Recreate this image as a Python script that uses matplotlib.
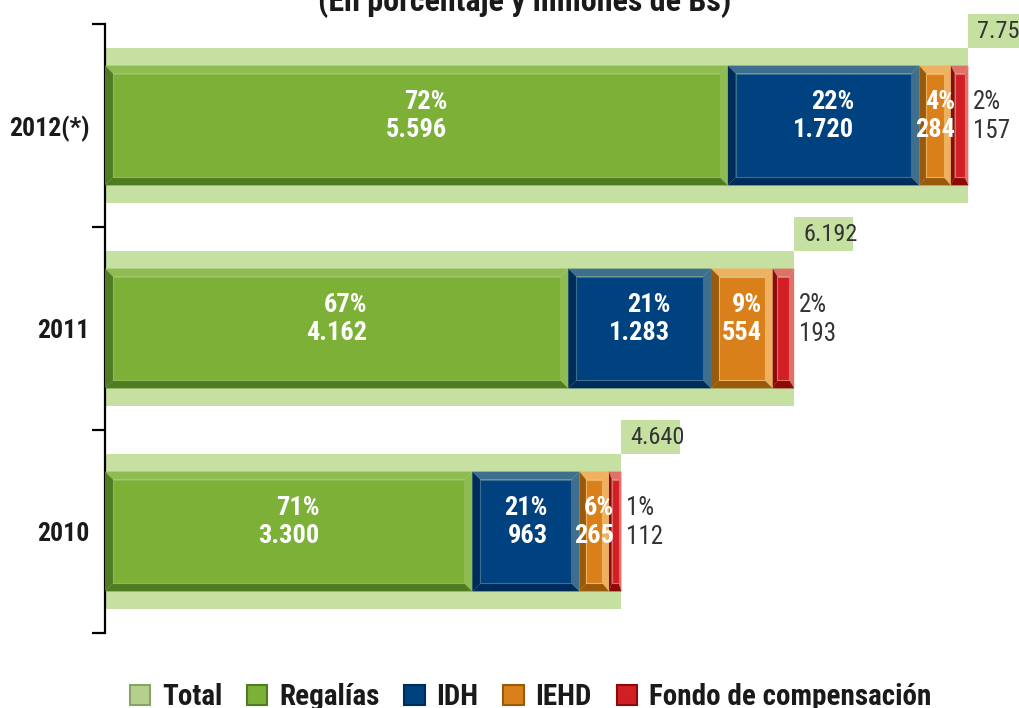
import os
import numpy as np
import matplotlib
matplotlib.use('Agg')
import matplotlib.pyplot as plt
import matplotlib.font_manager as fm
from matplotlib.patches import Polygon, Rectangle, Patch

# datos (millones de Bs y porcentaje)
years = ['2012(*)', '2011', '2010']
total = [7757, 6192, 4640]
regalias = [5596, 4162, 3300]
idh = [1720, 1283, 963]
iehd = [284, 554, 265]
fondo = [157, 193, 112]
regalias_pct = [72, 67, 71]
idh_pct = [22, 21, 21]
iehd_pct = [4, 9, 6]
fondo_pct = [2, 2, 1]


# buscar una fuente estrecha (condensed / narrow) instalada
def is_bold(f):
    w = f.weight
    if isinstance(w, str):
        return w.lower() in ('bold', 'semibold', 'demibold', 'heavy', 'black', 'extra bold', 'ultrabold')
    return w >= 600


def find_narrow(bold):
    prefs = ['liberation sans narrow', 'liberationsansnarrow', 'roboto condensed', 'robotocondensed',
             'noto sans', 'notosans', 'open sans', 'opensans', 'dejavu sans', 'dejavusans']
    best = None
    for f in fm.fontManager.ttflist:
        base = os.path.basename(f.fname).lower()
        name = f.name.lower() + ' ' + base
        narrow = 'narrow' in name or 'condensed' in name or str(f.stretch) in ('condensed', 'semi-condensed')
        if not narrow or 'extra' in base or 'semi' in base or 'italic' in base or 'oblique' in base:
            continue
        if f.style != 'normal' or is_bold(f) != bold:
            continue
        if not bold and str(f.weight).lower() not in ('400', 'normal', 'regular', 'book', 'medium', '500'):
            continue
        rank = next((i for i, p in enumerate(prefs) if p in name), len(prefs))
        if best is None or rank < best[0]:
            best = (rank, f.fname)
    return best[1] if best else None


reg_file = find_narrow(False)
bold_file = find_narrow(True)


def fp(size, bold=False):
    path = bold_file if bold else reg_file
    if path:
        return fm.FontProperties(fname=path, size=size)
    return fm.FontProperties(family='DejaVu Sans', weight='bold' if bold else 'normal', size=size * 0.8)


# name, values, pct, base, light, dark
series = [
    ('Regalías', regalias, regalias_pct, '#7cb037', '#8ebc52', '#4f7b22'),
    ('IDH', idh, idh_pct, '#00427f', '#3f6f8f', '#002c5c'),
    ('IEHD', iehd, iehd_pct, '#d9801a', '#efb060', '#9a5a0c'),
    ('Fondo de compensación', fondo, fondo_pct, '#d21f26', '#e0706a', '#8c0a0a'),
]
total_color = '#c5e0a0'


def fmt(v):
    return f'{v:,}'.replace(',', '.')


fig = plt.figure(figsize=(10.2, 7.08), dpi=100)
ax = fig.add_axes([105 / 1020, 1 - 633 / 708, 1 - 105 / 1020, (633 - 24) / 708])
xmax = 8221
ax.set_xlim(0, xmax)
ax.set_ylim(2.5, -0.5)

px_x = xmax / (1020 - 105)      # data units per pixel (x)
px_y = 3.0 / (633 - 24)         # data units per pixel (y)

pos = np.arange(len(years))
h_total = 0.76
h_seg = 0.59


def bevel(x0, w, yc, h, base, light, dark):
    dx = min(8 * px_x, w * 0.22)
    dy = 8 * px_y
    x1 = x0 + w
    top = yc - h / 2
    bot = yc + h / 2
    sides = [
        ([(x0, top), (x1, top), (x1 - dx, top + dy), (x0 + dx, top + dy)], light),
        ([(x1, top), (x1, bot), (x1 - dx, bot - dy), (x1 - dx, top + dy)], light),
        ([(x0, bot), (x1, bot), (x1 - dx, bot - dy), (x0 + dx, bot - dy)], dark),
        ([(x0, top), (x0 + dx, top + dy), (x0 + dx, bot - dy), (x0, bot)], dark),
    ]
    for pts, c in sides:
        ax.add_patch(Polygon(pts, closed=True, facecolor=c, edgecolor='none', zorder=3))
    ax.add_patch(Rectangle((x0 + dx, top + dy), w - 2 * dx, h - 2 * dy,
                           facecolor=base, edgecolor=light, lw=0.8, zorder=4))


# barra total de fondo
ax.barh(pos, total, height=h_total, color=total_color, zorder=1)

# recuadro con el total
box_w = 59 * px_x
box_h = 34 * px_y
for i, t in enumerate(total):
    top = pos[i] - h_total / 2
    ax.add_patch(Rectangle((t, top - box_h), box_w, box_h, facecolor=total_color,
                           edgecolor='none', zorder=2, clip_on=False))
    ax.text(t + 9 * px_x, top - box_h / 2, fmt(t), ha='left', va='center',
            fontproperties=fp(17.5), color='#333333', zorder=5)

left = np.zeros(len(years))
for k, (name, vals, pcts, base, light, dark) in enumerate(series):
    for i in range(len(years)):
        bevel(left[i], vals[i], pos[i], h_seg, base, light, dark)
        lbl = f'{pcts[i]}%\n{fmt(vals[i])}'
        if k < 3:
            ax.text(left[i] + vals[i] / 2, pos[i] - 0.045, lbl, ha='center', va='center',
                    multialignment='right', color='white', fontproperties=fp(19, True),
                    linespacing=1.2, zorder=6)
        else:
            ax.text(left[i] + vals[i] + 5 * px_x, pos[i] - 0.045, lbl, ha='left',
                    va='center', color='#333333', fontproperties=fp(18),
                    linespacing=1.25, zorder=6)
    left = left + np.array(vals)

# ejes
for s in ['top', 'right', 'bottom']:
    ax.spines[s].set_visible(False)
ax.spines['left'].set_linewidth(1.6)
ax.set_xticks([])
ax.set_yticks(pos)
ax.set_yticklabels(years, color='#1a1a1a')
for t in ax.get_yticklabels():
    t.set_fontproperties(fp(18.5, True))
ax.set_yticks([-0.5, 0.5, 1.5, 2.5], minor=True)
ax.tick_params(axis='y', which='major', length=0, pad=11)
ax.tick_params(axis='y', which='minor', length=9.5, width=1.6, direction='out')

# titulo (cortado arriba)
fig.text(0.514, 1 - 11 / 708, '(En porcentaje y millones de Bs)', ha='center',
         va='baseline', fontproperties=fp(23, True), color='#1a1a1a')

# leyenda
handles = [Patch(facecolor='#b4d08c', edgecolor='#86a464', lw=1.5)]
labels = ['Total']
for name, vals, pcts, base, light, dark in series:
    handles.append(Patch(facecolor=base, edgecolor=dark, lw=1.5))
    labels.append(name)
leg = fig.legend(handles, labels, loc='center', bbox_to_anchor=(0.52, 1 - 697 / 708),
                 ncol=5, frameon=False, handlelength=0.7, handleheight=0.7,
                 handletextpad=0.4, columnspacing=0.85, borderaxespad=0,
                 prop=fp(21, True))
for t in leg.get_texts():
    t.set_color('#1a1a1a')

fig.savefig('out.png', dpi=100)
